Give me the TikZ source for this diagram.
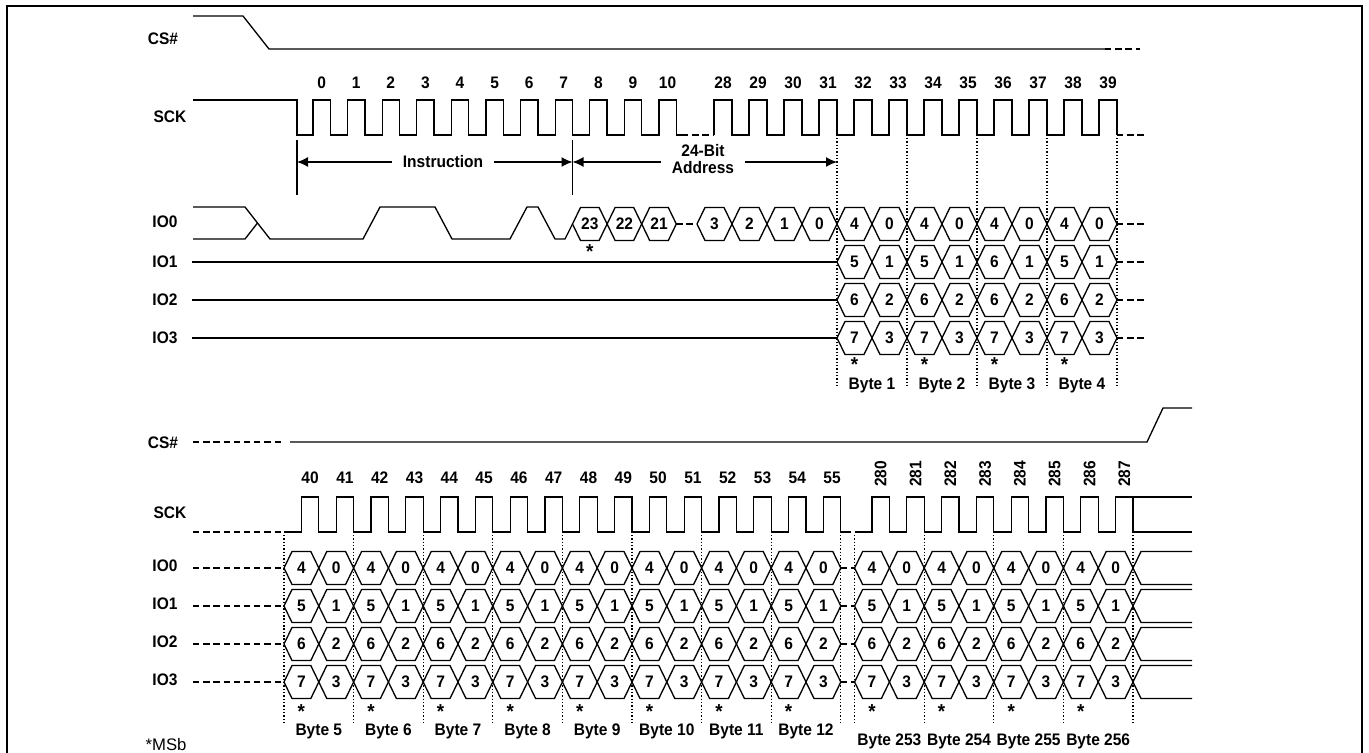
\documentclass[tikz,border=0pt]{standalone}
\usepackage{fontspec}
\setmainfont{Liberation Sans}
\newfontfamily\lblfont{Liberation Sans Bold}[FakeStretch=0.93]
\usetikzlibrary{arrows.meta}

\begin{document}
\begin{tikzpicture}[x=0.02cm,y=-0.02cm,line width=0.75pt,
  lbl/.style={font=\lblfont\fontsize{9.5}{10.2}\selectfont,inner sep=0pt},
  msbstar/.style={font=\lblfont\fontsize{11.5}{12}\selectfont,inner sep=0pt,anchor=base,text height=0pt,text depth=0pt},
  dashsig/.style={dash pattern=on 3.6pt off 2.2pt},
  dotsig/.style={line width=0.6pt,dash pattern=on 0.8pt off 1.1pt},
  arr/.style={-{Latex[length=2.2mm,width=2mm]}},
  frame/.style={line width=1.4pt}]
\useasboundingbox (0,0) rectangle (1369,753);
\draw[frame] (7,770) -- (7,6) -- (1362,6) -- (1362,770);

% upper part
\node[lbl] (cs1) at (163,39) {CS\#};
\node[lbl] (sck1) at (170,117) {SCK};
\foreach \c/\n in {222/0,262/1,300/2,338/3}
  \node[lbl] (io\n a) at (165,\c) {IO\n};

\draw (193,16) -- (243,16) -- (269,49) -- (1105,49);
\draw[dashsig] (1105,49) -- (1140,49);

\draw (193,100) -- (297,100) -- (297,135)
  foreach \k in {0,...,10}{ -- ({313+34.6*\k},135) -- ++(0,-35) -- ++(17.3,0) -- ++(0,35)} -- (682,135);
\draw[dashsig] (682,135) -- (714,135);
\draw (714,135)
  foreach \k in {28,...,39}{ -- ({714+35*(\k-28)},135) -- ++(0,-35) -- ++(18,0) -- ++(0,35)};
\draw[dashsig] (1117,135) -- (1145,135);
\foreach \k in {0,...,10}
  \node[lbl] (clk\k) at ({321.6+34.6*\k},83) {\k};
\foreach \k in {28,...,39}
  \node[lbl] (clk\k) at ({723+35*(\k-28)},83) {\k};

\draw (297,140) -- (297,195);
\draw (572.5,140) -- (572.5,195);
\coordinate (insL) at (297,162);
\coordinate (insR) at (572.5,162);
\coordinate (adrR) at (837,162);
\node[lbl,inner xsep=0.21cm] (instr) at (443,162) {Instruction};
\node[lbl,inner xsep=0.21cm,align=center] (addr) at (703,159) {24-Bit\\Address};
\draw[arr] (instr.west) -- (insL);
\draw[arr] (instr.east) -- (insR);
\draw[arr] (addr.west |- insR) -- (insR);
\draw[arr] (addr.east |- adrR) -- (adrR);

\draw (193,207) -- (245,207) -- (270,239) -- (363,239) -- (380,207) -- (435,207) -- (452,239)
  -- (510,239) -- (527,207) -- (538,207) -- (555,239) -- (565,239) -- (572.5,224);
\draw (193,239) -- (245,239) -- (257.5,223);
\foreach \d [count=\j from 0] in {23,22,21}{
  \draw ({572.5+34.6*\j},224) -- ++(8,-16.5) -- ++(18.6,0) -- ++(8,16.5) -- ++(-8,16.5) -- ++(-18.6,0) -- cycle;
  \node[lbl] (adr\d) at ({589.8+34.6*\j},224) {\d};
}
\draw[dashsig] (676.3,224) -- (697,224);
\foreach \d [count=\j from 0] in {3,2,1,0}{
  \draw ({697+35*\j},224) -- ++(8,-16.5) -- ++(19,0) -- ++(8,16.5) -- ++(-8,16.5) -- ++(-19,0) -- cycle;
  \node[lbl] (adr\d) at ({714.5+35*\j},224) {\d};
}
\foreach \c in {262,300,338}
  \draw (192,\c) -- (837,\c);
\foreach \c/\ds in {224/{4,0,4,0,4,0,4,0},262/{5,1,5,1,6,1,5,1},300/{6,2,6,2,6,2,6,2},338/{7,3,7,3,7,3,7,3}}{
  \foreach \d [count=\j from 0] in \ds{
    \draw ({837+35*\j},\c) -- ++(8,-16.5) -- ++(19,0) -- ++(8,16.5) -- ++(-8,16.5) -- ++(-19,0) -- cycle;
    \node[lbl] (d\c-\j) at ({854.5+35*\j},\c) {\d};
  }
  \draw[dashsig] (1117,\c) -- (1145,\c);
}
\foreach \x in {837,907,977,1047,1117}
  \draw[dotsig] (\x,138) -- (\x,388);
\node[msbstar] (msb0) at (589.8,258) {*};
\foreach \m in {1,...,4}{
  \node[msbstar] (star\m) at ({784.5+70*\m},371) {*};
  \node[lbl,anchor=base] (byte\m) at ({802+70*\m},389) {Byte \m};
}

% lower part
\node[lbl] (cs2) at (163,443) {CS\#};
\node[lbl] (sck2) at (170,513) {SCK};
\foreach \c/\n in {566/0,604/1,642/2,680/3}
  \node[lbl] (io\n b) at (165,\c) {IO\n};

\draw[dashsig] (193,442) -- (282,442);
\draw (290,442) -- (1147,442) -- (1163,408) -- (1192,408);

\draw[dashsig] (193,532) -- (284,532);
\draw (284,532)
  foreach \k in {40,...,55}{ -- ({266.6+34.8*(\k-39)},532) -- ++(0,-35) -- ++(17.4,0) -- ++(0,35)} -- (845,532);
\draw[dashsig] (845,532) -- (855,532);
\draw (855,532)
  foreach \k in {280,...,287}{ -- ({872+34.8*(\k-280)},532) -- ++(0,-35) -- ++(17.4,0) -- ++(0,35)} -- (1192,532);
\draw (1133.6,497) -- (1192,497);
\foreach \k in {40,...,55}
  \node[lbl] (clk\k) at ({275.3+34.8*(\k-39)},478) {\k};
\foreach \k in {280,...,287}
  \node[lbl,rotate=90] (clk\k) at ({880.7+34.8*(\k-280)},474) {\k};

\foreach \r/\c in {0/568,1/606,2/644,3/682}{
  \draw[dashsig] (193,\c) -- (284,\c);
  \foreach \j in {0,...,15}{
    \pgfmathtruncatemacro\d{\r+4*(1-mod(\j,2))}
    \draw ({284+34.8*\j},\c) -- ++(8,-16.5) -- ++(18.8,0) -- ++(8,16.5) -- ++(-8,16.5) -- ++(-18.8,0) -- cycle;
    \node[lbl] (e\r-\j) at ({301.4+34.8*\j},\c) {\d};
  }
  \draw[dashsig] (840.8,\c) -- (854.6,\c);
  \foreach \j in {0,...,7}{
    \pgfmathtruncatemacro\d{\r+4*(1-mod(\j,2))}
    \draw ({854.6+34.8*\j},\c) -- ++(8,-16.5) -- ++(18.8,0) -- ++(8,16.5) -- ++(-8,16.5) -- ++(-18.8,0) -- cycle;
    \node[lbl] (f\r-\j) at ({872+34.8*\j},\c) {\d};
  }
  \draw (1133,\c) -- ++(8,-16.5) -- (1192,{\c-16.5});
  \draw (1133,\c) -- ++(8,16.5) -- (1192,{\c+16.5});
}
\foreach \m in {0,...,8}
  \draw[dotsig] ({284+69.6*\m},535) -- ++(0,190);
\foreach \m in {0,...,4}
  \draw[dotsig] ({854.6+69.6*\m},535) -- ++(0,190);
\foreach \m [evaluate=\m as \b using int(5+\m)] in {0,...,7}{
  \node[msbstar] (starb\m) at ({301.4+69.6*\m},718) {*};
  \node[lbl,anchor=base] (byteb\m) at ({318.8+69.6*\m},735) {Byte \b};
}
\foreach \m [evaluate=\m as \b using int(253+\m)] in {0,...,3}{
  \node[msbstar] (starc\m) at ({872+69.6*\m},718) {*};
  \node[lbl,anchor=base] (bytec\m) at ({889.4+69.6*\m},745) {Byte \b};
}
\node[font=\fontsize{9.5}{10.2}\selectfont,inner sep=0pt,anchor=base west] (msb) at (145,750) {*MSb};
\end{tikzpicture}
\end{document}
